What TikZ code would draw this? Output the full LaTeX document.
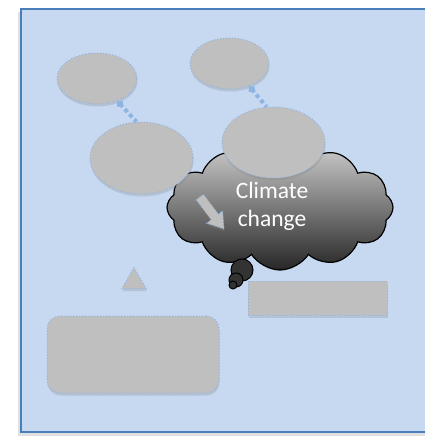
\documentclass[tikz,border=0pt]{standalone}
\usepackage{fontspec}
\setsansfont{Carlito}
\usetikzlibrary{shapes.geometric,shapes.symbols,arrows.meta,shadows}
\definecolor{bgblue}{HTML}{C6D9F1}
\definecolor{frameblue}{HTML}{4A7EBB}
\definecolor{shapegray}{HTML}{BFBFBF}
\definecolor{dotblue}{HTML}{8EB4E3}
\tikzset{
  softshadow/.style={drop shadow={opacity=0.25,shadow xshift=0.5pt,shadow yshift=-2.5pt}},
  grayshape/.style={fill=shapegray,draw=dotblue,line width=1pt,dotted,inner sep=0pt,softshadow},
  oval/.style={grayshape,ellipse},
  link/.style={draw=dotblue,line width=4pt,dash pattern=on 4pt off 3pt,{Diamond[length=8pt,width=8pt,line width=0pt]}-},
  thought/.style={cloud,cloud puffs=12,cloud puff arc=115,aspect=1.8,draw=black,line width=1.2pt,
    top color=black!20,bottom color=black!85,inner sep=0pt},
  bubble/.style={circle,draw=black,line width=1pt,fill=black!80,inner sep=0pt},
  label/.style={font=\sffamily\fontsize{23.5}{28}\selectfont,text=white,align=center}
}
\begin{document}
\begin{tikzpicture}[x=1pt,y=-1pt]
\useasboundingbox (0,0) rectangle (424,439);
% frame with shadow
\fill[black!20,opacity=0.6] (18,12) rectangle (440,436);
\draw[fill=bgblue,draw=frameblue,line width=1.5pt] (21,9) rectangle (440,432);
% cloud and tail bubbles
\node[thought,minimum width=226pt,minimum height=125pt] (cl) at (280,207.5) {};
\node[bubble,minimum size=22pt] (b1) at (242,270) {};
\node[bubble,minimum size=14pt] (b2) at (236,280) {};
\node[bubble,minimum size=8pt] (b3) at (233,285) {};
% ellipses
\node[oval,minimum width=80pt,minimum height=51pt] (e1) at (97,78.5) {};
\node[oval,minimum width=79pt,minimum height=51pt] (e2) at (229.5,63.5) {};
\node[oval,minimum width=103pt,minimum height=72pt] (e3) at (141.5,158) {};
\node[oval,minimum width=103pt,minimum height=71pt] (e4) at (273.5,142.5) {};
% connectors
\draw[link] (e1.-48) -- (e3.98);
\draw[link] (e2.-49) -- (e4.101);
% text and block arrow in cloud
\node[label] (txt) at (272,206) {Climate\\change};
\draw[fill=shapegray,draw=dotblue,line width=1pt,dotted,softshadow]
  (196.2,199.8) -- (211.3,219.7) -- (206.7,223.2) -- (224,229) -- (222.6,210.8)
  -- (218.5,214.3) -- (203.4,194.4) -- cycle;
% triangle
\node[regular polygon,regular polygon sides=3,grayshape,minimum size=28pt] (tri) at (134,281.5) {};
% rectangles
\node[grayshape,rectangle,minimum width=139pt,minimum height=34pt] (r1) at (317.5,298) {};
\node[grayshape,rectangle,rounded corners=13pt,minimum width=172pt,minimum height=77pt] (r2) at (133,354.5) {};
\end{tikzpicture}
\end{document}
